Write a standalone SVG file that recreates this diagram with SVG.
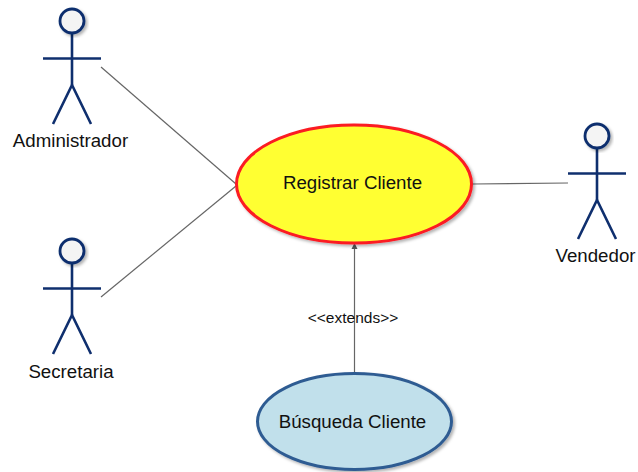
<svg xmlns="http://www.w3.org/2000/svg" width="638" height="472" viewBox="0 0 638 472">
<style>
text{font-family:"Liberation Sans",Arial,sans-serif;fill:#111;text-anchor:middle}
.lbl{font-size:18.7px}
.small{font-size:15.5px}
.stick{fill:none;stroke:#0f2f6e;stroke-width:2.6}
.head{fill:#f4f4f4;stroke:#0f2f6e;stroke-width:2.8;filter:url(#sh)}
.conn{fill:none;stroke:#666;stroke-width:1.2}
</style>
<defs>
<filter id="sh" x="-20%" y="-20%" width="140%" height="140%"><feDropShadow dx="2" dy="2" stdDeviation="1.5" flood-color="#000" flood-opacity="0.3"/></filter>
<marker id="arr" markerUnits="userSpaceOnUse" markerWidth="8" markerHeight="8" refX="6" refY="3.5" orient="auto"><path d="M0,0.5 L6,3.5 L0,6.5 Z" fill="#555"/></marker>
<g id="actor"><line class="stick" x1="0" y1="12" x2="0" y2="64"/><line class="stick" x1="-29" y1="37.5" x2="29" y2="37.5"/><path class="stick" d="M-19,103 L0,64 L19,103"/><circle class="head" cx="0" cy="0" r="12"/></g>
</defs>
<g id="connectors">
<line class="conn" x1="101" y1="67" x2="236" y2="184"/>
<line class="conn" x1="101" y1="297" x2="236" y2="186"/>
<line class="conn" x1="473" y1="184" x2="568" y2="183"/>
<line class="conn" x1="354.5" y1="373" x2="354.5" y2="243" marker-end="url(#arr)"/>
<text class="small" x="353" y="323">&lt;&lt;extends&gt;&gt;</text>
</g>
<g id="administrador"><use href="#actor" x="72" y="21"/><text class="lbl" x="70.5" y="147">Administrador</text></g>
<g id="secretaria"><use href="#actor" x="72" y="251"/><text class="lbl" x="71" y="378">Secretaria</text></g>
<g id="vendedor"><use href="#actor" x="597" y="136"/><text class="lbl" x="595.5" y="262">Vendedor</text></g>
<g id="registrar"><ellipse cx="354" cy="184" rx="117.5" ry="59" fill="#ffff33" stroke="#fb1a24" stroke-width="3" filter="url(#sh)"/><text class="lbl" x="352.5" y="189">Registrar Cliente</text></g>
<g id="busqueda"><ellipse cx="354.5" cy="421.5" rx="97" ry="48" fill="#c1e0eb" stroke="#2f5b92" stroke-width="3" filter="url(#sh)"/><text class="lbl" x="352.5" y="428">Búsqueda Cliente</text></g>
</svg>
